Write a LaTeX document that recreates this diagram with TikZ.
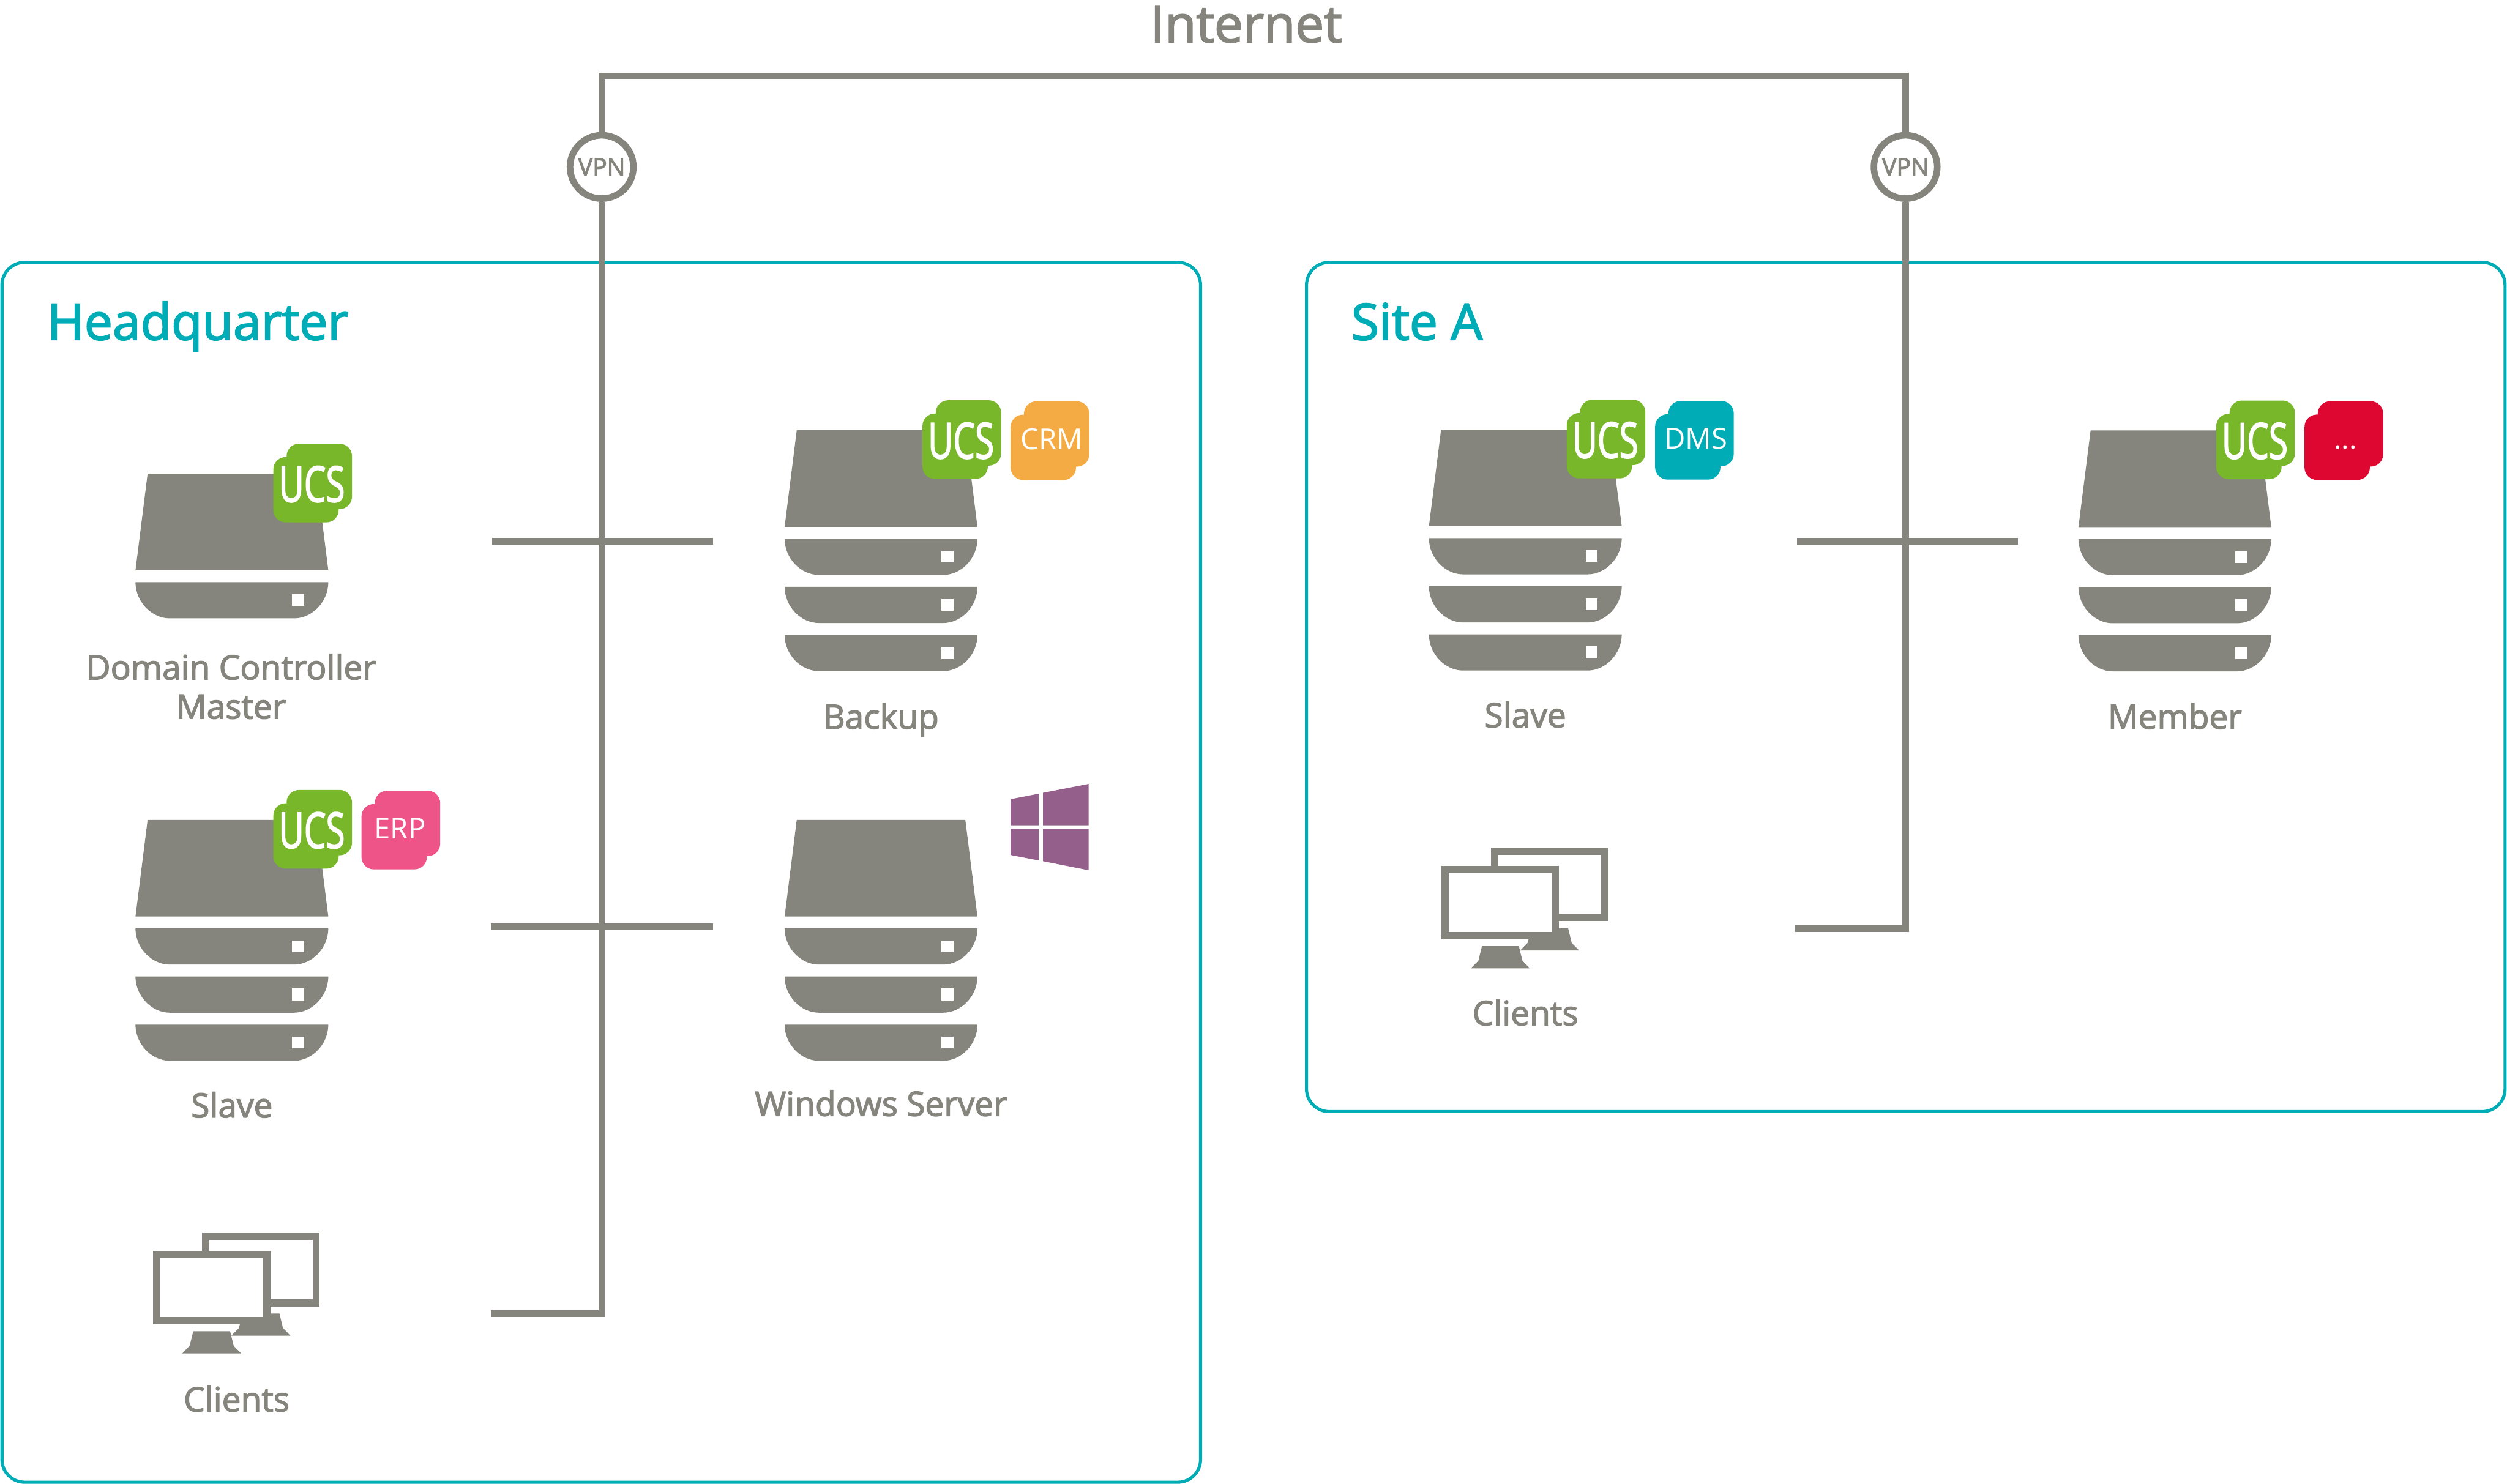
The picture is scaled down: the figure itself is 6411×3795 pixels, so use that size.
\documentclass[tikz,border=0pt]{standalone}
\usepackage{graphicx}
\usepackage{fontspec}
\setmainfont[FakeBold=2.4]{Open Sans}
\newfontfamily\appfont{Open Sans}
\usetikzlibrary{positioning}
\definecolor{linegrey}{RGB}{133,133,126}
\definecolor{teal}{RGB}{0,173,183}
\definecolor{ucsgreen}{RGB}{120,183,41}
\definecolor{crmorange}{RGB}{245,171,68}
\definecolor{erppink}{RGB}{238,84,135}
\definecolor{dotsred}{RGB}{222,7,49}
\definecolor{winpurple}{RGB}{149,95,139}
\tikzset{
  site box/.style={
    draw=teal,
    line width=0.08cm,
    rounded corners=16.5pt
  },
  site title/.style={
    anchor=base west,
    inner sep=0pt,
    text=teal,
    font=\fontsize{36.6}{40}\selectfont
  },
  caption/.style={
    anchor=base,
    inner sep=0pt,
    text=linegrey,
    align=center,
    font=\fontsize{24.5}{28.5}\selectfont
  },
  link/.style={
    draw=linegrey,
    line width=0.165cm
  },
  vpn/.style={
    circle,
    draw=linegrey,
    fill=white,
    line width=0.167cm,
    minimum size=1.62cm,
    inner sep=0pt,
    text=linegrey,
    font=\fontsize{17.5}{20}\selectfont
  },
  tile/.style={
    rectangle,
    fill=#1,
    rounded corners=9pt,
    minimum size=1.67cm,
    inner sep=0pt
  },
  pics/server/.style={
    code={
      \fill[linegrey] (-215.5,0) -- (215.5,0) -- (246.5,247) -- (-246.5,247) -- cycle;
      \foreach \i in {1,...,#1} {
        \pgfmathsetmacro{\bandtop}{277.5+(\i-1)*123}
        \pgfmathsetmacro{\bandlow}{\bandtop+92.5}
        \pgfmathsetmacro{\bandmid}{\bandtop+50}
        \fill[linegrey] (-246.5,\bandtop) -- (246.5,\bandtop)
          .. controls (246.5,\bandmid) and (205,\bandlow) .. (159,\bandlow)
          -- (-159,\bandlow)
          .. controls (-205,\bandlow) and (-246.5,\bandmid) .. (-246.5,\bandtop) -- cycle;
        \fill[white] (154,\bandtop+31) rectangle (185,\bandtop+61);
      }
    }
  },
  pics/ucsbadge/.style={
    code={
      \node[tile=ucsgreen] (back) at (17,-17) {};
      \node[tile=ucsgreen] (front) at (-17,17) {};
      \node[anchor=base,inner sep=0pt,text=white] (text) at (-2,48)
        {\scalebox{0.7}[1]{\fontsize{36}{36}\selectfont UCS}};
    }
  },
  pics/appbadge/.style 2 args={
    code={
      \node[tile=#1] (back) at (17,-17) {};
      \node[tile=#1] (front) at (-17,17) {};
      \node[anchor=base,inner sep=0pt,text=white,font=\appfont\fontsize{21}{24}\selectfont] (text) at (4,22) {#2};
    }
  },
  pics/clients/.style={
    code={
      \fill[linegrey] (229.2,160.3) -- (220,197.6) -- (200.7,217) -- (351.6,217) -- (332.6,197.6) -- (323.5,160.3) -- cycle;
      \draw[linegrey,fill=white,line width=0.185cm] (135.3,-36.7) rectangle (417.3,132.7);
      \draw[linegrey,fill=white,line width=0.185cm] (9.3,9.3) rectangle (291.3,178.7);
      \fill[linegrey] (103.2,206) -- (94,243.3) -- (74.7,262.7) -- (225.6,262.7) -- (206.6,243.3) -- (197.5,206) -- cycle;
    }
  }
}
\begin{document}
\begin{tikzpicture}[x=0.01cm,y=-0.01cm]
  \useasboundingbox (0,0) rectangle (6411,3795);

  % Sites
  \draw[site box] (5,671) rectangle (3070,3791);
  \draw[site box] (3341,671) rectangle (6406,2843);
  \node[site title] (hqtitle) at (120,869) {Headquarter};
  \node[site title] (sitetitle) at (3455,869) {Site A};

  % Internet and VPN
  \node[caption,font=\fontsize{37.2}{40}\selectfont] (internet) at (3187,108) {Internet};
  \node[vpn] (vpnhq) at (1538.7,427) {VPN};
  \node[vpn] (vpnsite) at (4873,427) {VPN};
  \coordinate (tophq) at (1538.7,194);
  \coordinate (topsite) at (4873,194);
  \coordinate (clientshq) at (1255,3359.7);
  \coordinate (clientssite) at (4591,2375);
  \draw[link] (vpnhq.north) -- (tophq) -- (topsite) -- (vpnsite.north);
  \draw[link] (vpnhq.south) |- (clientshq);
  \draw[link] (vpnsite.south) |- (clientssite);

  % Branches
  \coordinate (dcport) at (1259,1384);
  \coordinate (backupport) at (1823,1384);
  \coordinate (slaveport) at (1255,2370);
  \coordinate (winport) at (1823,2370);
  \coordinate (siteslaveport) at (4596,1384);
  \coordinate (memberport) at (5160,1384);
  \draw[link] (dcport) -- (backupport);
  \draw[link] (slaveport) -- (winport);
  \draw[link] (siteslaveport) -- (memberport);

  % Headquarter
  \pic (dc) at (593,1211.5) {server=1};
  \pic (dcucs) at (799.5,1235.5) {ucsbadge};
  \node[caption] (dclabel) at (591,1838) {Domain Controller\\Master};
  \pic (backup) at (2253,1100.4) {server=3};
  \pic (backupucs) at (2459.5,1124.4) {ucsbadge};
  \pic (crm) at (2685,1127) {appbadge={crmorange}{CRM}};
  \node[caption] (backuplabel) at (2253,1864) {Backup};
  \pic (slave) at (593,2097) {server=3};
  \pic (slaveucs) at (799.5,2121) {ucsbadge};
  \pic (erp) at (1025,2123) {appbadge={erppink}{ERP\kern3.4pt}};
  \node[caption] (slavelabel) at (593,2858) {Slave};
  \pic (win) at (2253,2097) {server=3};
  \fill[winpurple] (2584.3,2044) -- (2656.7,2030) -- (2656.7,2111) -- (2584.3,2111) -- cycle;
  \fill[winpurple] (2667.3,2027.7) -- (2784,2005) -- (2784,2111) -- (2667.3,2111) -- cycle;
  \fill[winpurple] (2584.3,2119.3) -- (2656.7,2119.3) -- (2656.7,2200.7) -- (2584.3,2186.7) -- cycle;
  \fill[winpurple] (2667.3,2119.3) -- (2784,2119.3) -- (2784,2225.7) -- (2667.3,2202.7) -- cycle;
  \node[caption] (winlabel) at (2253,2854) {Windows Server};
  \pic (clhq) at (391,3199) {clients};
  \node[caption] (clhqlabel) at (605,3610) {Clients};

  % Site A
  \pic (siteslave) at (3900.6,1099) {server=3};
  \pic (siteslaveucs) at (4107,1123) {ucsbadge};
  \pic (dms) at (4333,1126) {appbadge={teal}{DMS}};
  \node[caption] (siteslavelabel) at (3900.6,1860) {Slave};
  \pic (member) at (5561.6,1101) {server=3};
  \pic (memberucs) at (5768,1125) {ucsbadge};
  \pic (dots) at (5993.7,1126.8) {appbadge={dotsred}{...}};
  \node[caption] (memberlabel) at (5561.6,1864) {Member};
  \pic (clsite) at (3686.5,2214) {clients};
  \node[caption] (clsitelabel) at (3900.6,2622) {Clients};
\end{tikzpicture}
\end{document}
